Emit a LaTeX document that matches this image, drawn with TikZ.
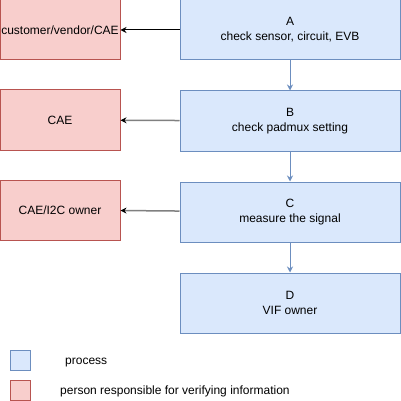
\documentclass[tikz,border=0pt]{standalone}
\usepackage{fontspec}
\setmainfont{Liberation Sans}
\usepackage{xcolor}
\usepackage{tikz}
\usetikzlibrary{arrows.meta,positioning}
\definecolor{procfill}{HTML}{DAE8FC}
\definecolor{procline}{HTML}{6C8EBF}
\definecolor{ownfill}{HTML}{F8CECC}
\definecolor{ownline}{HTML}{B85450}
\definecolor{grayline}{HTML}{808080}
\tikzset{
  proc/.style={draw=procline,fill=procfill,line width=1pt,minimum width=220pt,minimum height=60pt,align=center,inner sep=0pt,font=\fontsize{12}{15}\selectfont},
  own/.style={draw=ownline,fill=ownfill,line width=1pt,minimum width=120pt,minimum height=60pt,align=center,inner sep=0pt,font=\fontsize{12}{15}\selectfont},
  swatch/.style={line width=1pt,minimum width=20pt,minimum height=20pt,inner sep=0pt},
  down/.style={-{Stealth[length=6pt,width=6pt]},line width=1pt,procline},
  side/.style={-{Stealth[length=6pt,width=6pt,color=black]},line width=1pt},
  legend/.style={anchor=base west,inner sep=0pt,font=\fontsize{12}{15}\selectfont}
}
\begin{document}
\begin{tikzpicture}[x=1pt,y=-1pt,node distance=30pt]
\useasboundingbox (0,0) rectangle (401,401);
% process chain
\node[proc] (A) at (290,30) {A\\check sensor, circuit, EVB};
\node[proc,below=of A] (B) {B\\check padmux setting};
\node[proc,below=of B] (C) {C\\measure the signal};
\node[proc,below=of C] (D) {D\\VIF owner};
% owners
\node[own] (oA) at (60,30) {customer/vendor/CAE};
\node[own] (oB) at (60,120) {CAE};
\node[own] (oC) at (60,210) {CAE/I2C owner};
\draw[down] (A) -- (B);
\draw[down] (B) -- (C);
\draw[down] (C) -- (D);
\draw[side,black] (A) -- (oA);
\draw[side,grayline,line width=1.5pt] (B) -- (oB);
\draw[side,grayline,line width=1.5pt] (C) -- (oC);
% legend
\node[swatch,draw=procline,fill=procfill] (kp) at (20,360) {};
\node[swatch,draw=ownline,fill=ownfill] (ko) at (20,390) {};
\node[legend] (tp) at (65,364.5) {process};
\node[legend] (to) at (60,394.5) {person responsible for verifying information};
\end{tikzpicture}
\end{document}
